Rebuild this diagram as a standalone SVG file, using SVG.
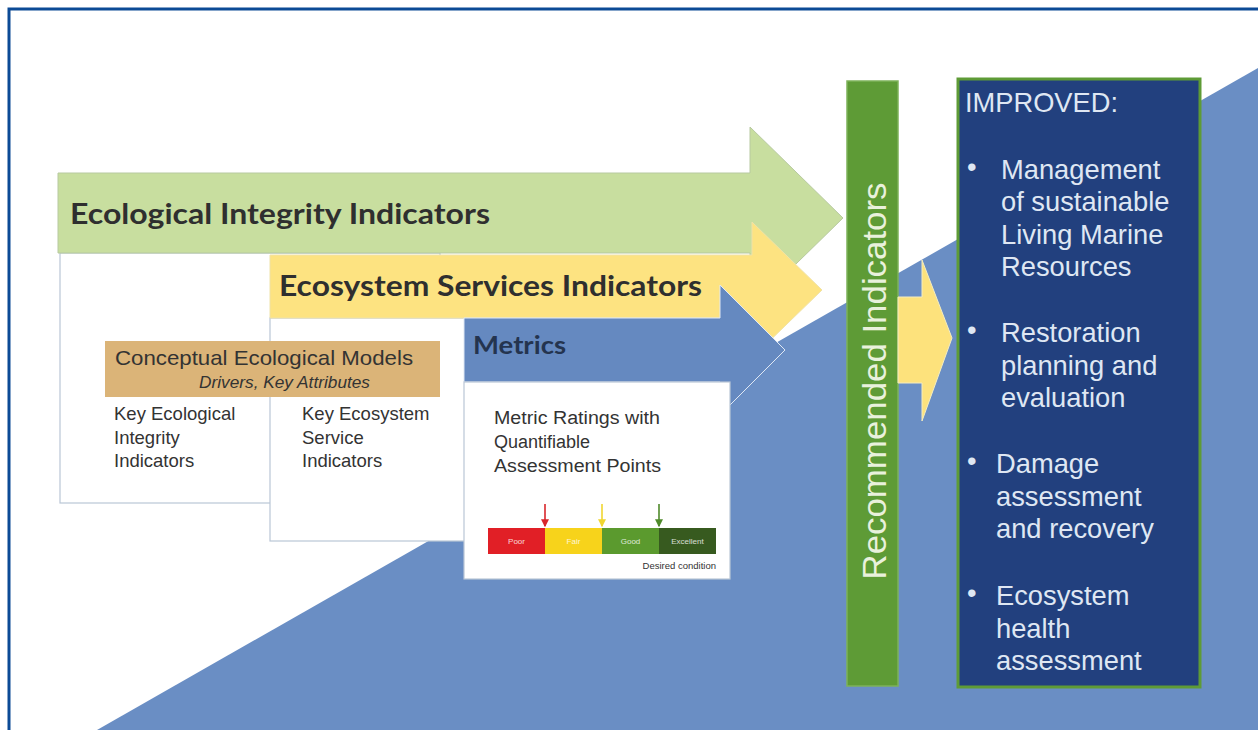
<svg xmlns="http://www.w3.org/2000/svg" width="1258" height="730" viewBox="0 0 1258 730">
  <defs>
    <style>
      .sans { font-family: "Liberation Sans", Arial, sans-serif; }
      .head { font-family: "Lato", "Open Sans", sans-serif; font-weight: 700; }
      .panel { fill: #ffffff; stroke: #b9c6d6; stroke-width: 1.2; }
      .body { fill: #333333; font-size: 18.5px; }
      .improved { fill: #dfe7f3; font-size: 27.3px; }
      .tick { stroke-width: 1.6; }
      .rate { fill: #ffffff; font-size: 8px; opacity: 0.8; }
    </style>
    <marker id="tipRed" viewBox="0 0 6 6" refX="5" refY="3" markerWidth="5" markerHeight="5" orient="auto">
      <path d="M0,0 L6,3 L0,6 Z" fill="#d9262b"/>
    </marker>
    <marker id="tipYellow" viewBox="0 0 6 6" refX="5" refY="3" markerWidth="5" markerHeight="5" orient="auto">
      <path d="M0,0 L6,3 L0,6 Z" fill="#f0d630"/>
    </marker>
    <marker id="tipGreen" viewBox="0 0 6 6" refX="5" refY="3" markerWidth="5" markerHeight="5" orient="auto">
      <path d="M0,0 L6,3 L0,6 Z" fill="#4f8a2a"/>
    </marker>
  </defs>

  <!-- page background and frame -->
  <rect x="0" y="0" width="1258" height="730" fill="#ffffff"/>
  <polygon points="97,730 1258,68 1258,730" fill="#6a8ec4"/>
  <rect x="9" y="9" width="1262" height="745" fill="none" stroke="#0c4a96" stroke-width="3"/>

  <!-- ecological integrity band -->
  <g id="ecological-integrity">
    <rect class="panel" x="60" y="253" width="380" height="250"/>
    <polygon points="58,173 750,173 750,127 843,218 750,309 750,253 58,253" fill="#c8de9f" stroke="#b7c9a0" stroke-width="1"/>
    <text class="head" x="70" y="224" font-size="28" fill="#2f2f2f" textLength="420" lengthAdjust="spacingAndGlyphs">Ecological Integrity Indicators</text>
    <text class="sans body" x="114" y="420">Key Ecological</text>
    <text class="sans body" x="114" y="444">Integrity</text>
    <text class="sans body" x="114" y="467">Indicators</text>
  </g>

  <!-- ecosystem services band -->
  <g id="ecosystem-services">
    <rect class="panel" x="270" y="318" width="330" height="223"/>
    <polygon points="270,255 752,255 752,222 822,290 752,358 752,318 270,318" fill="#fde381" stroke="#efe2a8" stroke-width="1"/>
    <text class="head" x="279" y="296" font-size="28" fill="#2f2f2f" textLength="423" lengthAdjust="spacingAndGlyphs">Ecosystem Services Indicators</text>
    <text class="sans body" x="302" y="420">Key Ecosystem</text>
    <text class="sans body" x="302" y="444">Service</text>
    <text class="sans body" x="302" y="467">Indicators</text>
  </g>

  <!-- metrics band -->
  <g id="metrics">
    <polygon points="464,318 720,318 720,285 785,350 720,415 720,382 464,382" fill="#6589c0" stroke="#dfe8f4" stroke-width="1"/>
    <text class="head" x="473" y="354" font-size="24" fill="#24344f" textLength="93" lengthAdjust="spacingAndGlyphs">Metrics</text>
    <rect class="panel" x="464" y="382" width="266" height="197"/>
    <text class="sans" x="494" y="424" font-size="18" fill="#333333" textLength="166" lengthAdjust="spacingAndGlyphs">Metric Ratings with</text>
    <text class="sans" x="494" y="448" font-size="18" fill="#333333">Quantifiable</text>
    <text class="sans" x="494" y="472" font-size="18" fill="#333333" textLength="167" lengthAdjust="spacingAndGlyphs">Assessment Points</text>
    <!-- rating scale -->
    <rect x="488" y="528" width="57" height="26" fill="#e11f26"/>
    <rect x="545" y="528" width="57" height="26" fill="#f7d31b"/>
    <rect x="602" y="528" width="57" height="26" fill="#5b9a2e"/>
    <rect x="659" y="528" width="57" height="26" fill="#375a1f"/>
    <text class="sans rate" x="516.5" y="544" text-anchor="middle">Poor</text>
    <text class="sans rate" x="573.5" y="544" text-anchor="middle">Fair</text>
    <text class="sans rate" x="630.5" y="544" text-anchor="middle">Good</text>
    <text class="sans rate" x="687.5" y="544" text-anchor="middle">Excellent</text>
    <line class="tick" x1="545" y1="504" x2="545" y2="526" stroke="#d9262b" marker-end="url(#tipRed)"/>
    <line class="tick" x1="602" y1="504" x2="602" y2="526" stroke="#f0d630" marker-end="url(#tipYellow)"/>
    <line class="tick" x1="659" y1="504" x2="659" y2="526" stroke="#4f8a2a" marker-end="url(#tipGreen)"/>
    <text class="sans" x="716" y="569" font-size="9.5" fill="#333333" text-anchor="end">Desired condition</text>
  </g>

  <!-- conceptual models banner -->
  <g id="conceptual-models">
    <rect x="105" y="341" width="335" height="56" fill="#dbb478"/>
    <text class="sans" x="115" y="365" font-size="21" fill="#333333" textLength="298" lengthAdjust="spacingAndGlyphs">Conceptual Ecological Models</text>
    <text class="sans" x="199" y="388" font-size="16" font-style="italic" fill="#333333" textLength="171" lengthAdjust="spacingAndGlyphs">Drivers, Key Attributes</text>
  </g>

  <!-- recommended indicators bar -->
  <g id="recommended-indicators">
    <rect x="847" y="81" width="51" height="605" fill="#5e9b36" stroke="#7eb25a" stroke-width="1.5"/>
    <text class="sans" transform="translate(886,381) rotate(-90)" text-anchor="middle" font-size="34" fill="#e9f1dc" textLength="397" lengthAdjust="spacingAndGlyphs">Recommended Indicators</text>
  </g>

  <!-- connectors -->
  <g id="connectors">
    <polygon points="898,297 922,297 922,260 952,338 922,421 922,383 898,383" fill="#fde27c" stroke="#f4ecc0" stroke-width="1"/>
  </g>

  <!-- outcomes box -->
  <g id="improved">
    <rect x="958" y="79" width="242" height="608" fill="#22407e" stroke="#5e9b36" stroke-width="3"/>
    <text class="sans improved" x="965" y="112" textLength="153" lengthAdjust="spacingAndGlyphs">IMPROVED:</text>
    <text class="sans improved" x="967" y="176" font-size="20">•</text>
    <text class="sans improved" x="1001" y="179">Management</text>
    <text class="sans improved" x="1001" y="211">of sustainable</text>
    <text class="sans improved" x="1001" y="244">Living Marine</text>
    <text class="sans improved" x="1001" y="276">Resources</text>
    <text class="sans improved" x="967" y="339" font-size="20">•</text>
    <text class="sans improved" x="1001" y="342">Restoration</text>
    <text class="sans improved" x="1001" y="375">planning and</text>
    <text class="sans improved" x="1001" y="407">evaluation</text>
    <text class="sans improved" x="967" y="470" font-size="20">•</text>
    <text class="sans improved" x="996" y="473">Damage</text>
    <text class="sans improved" x="996" y="506">assessment</text>
    <text class="sans improved" x="996" y="538">and recovery</text>
    <text class="sans improved" x="967" y="602" font-size="20">•</text>
    <text class="sans improved" x="996" y="605">Ecosystem</text>
    <text class="sans improved" x="996" y="638">health</text>
    <text class="sans improved" x="996" y="670">assessment</text>
  </g>
</svg>
